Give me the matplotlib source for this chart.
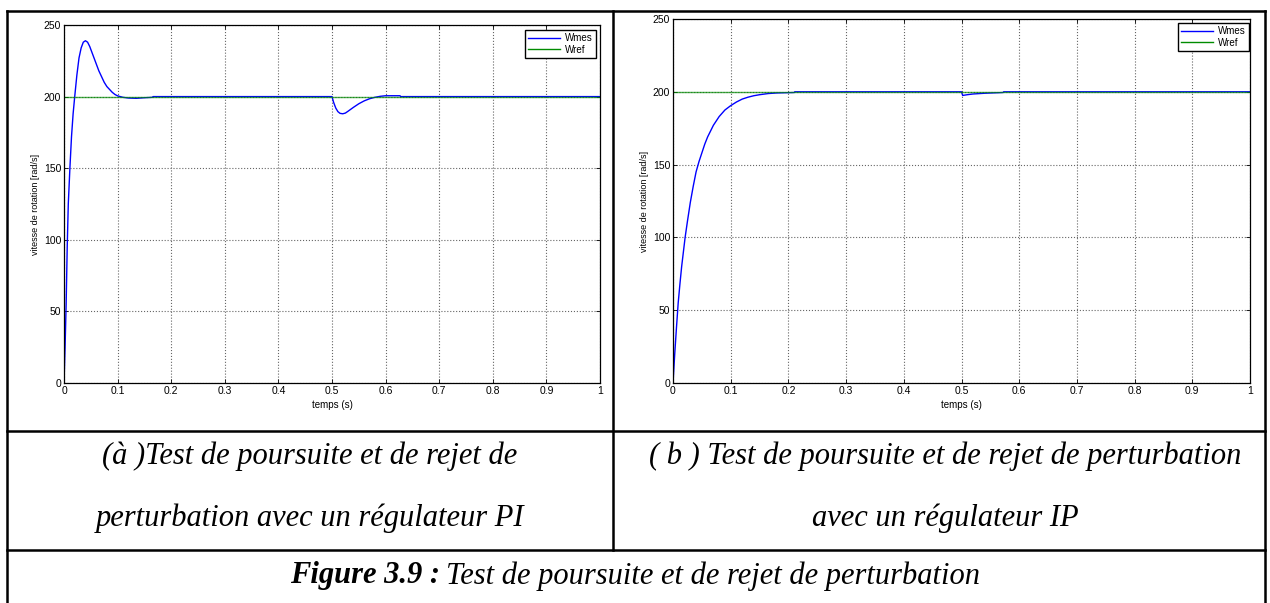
import numpy as np
import matplotlib.pyplot as plt
from matplotlib.lines import Line2D

# PI regulator: speed response (Wmes)
t_pi = [0, 0.002, 0.004, 0.006, 0.008, 0.011, 0.014, 0.017, 0.020, 0.024, 0.028,
        0.032, 0.036, 0.040, 0.044, 0.048, 0.052, 0.056, 0.060, 0.065, 0.070,
        0.075, 0.080, 0.085, 0.090, 0.095, 0.100, 0.110, 0.120, 0.135, 0.150,
        0.165, 0.166, 0.500, 0.503, 0.507, 0.511, 0.515, 0.520, 0.525, 0.530,
        0.540, 0.550, 0.560, 0.570, 0.580, 0.590, 0.600, 0.627, 0.628, 1.0]
w_pi = [0, 25, 55, 95, 125, 150, 172, 188, 200, 215, 227,
        234, 238, 239, 238, 235, 231, 227, 223, 218, 214,
        210, 207, 205, 203, 201.5, 200.5, 199.5, 199, 198.8, 199.2,
        199.5, 200, 200, 196, 192, 189.5, 188.3, 188, 188.5, 189.8,
        192.5, 195, 197, 198.5, 199.5, 200.2, 200.6, 200.6, 200, 200]

# IP regulator: speed response (Wmes)
t_ip = [0, 0.003, 0.006, 0.009, 0.012, 0.015, 0.018, 0.021, 0.025, 0.030, 0.035,
        0.040, 0.045, 0.050, 0.055, 0.060, 0.065, 0.070, 0.080, 0.090, 0.100,
        0.110, 0.120, 0.130, 0.140, 0.150, 0.165, 0.180, 0.210, 0.211, 0.500,
        0.502, 0.510, 0.520, 0.540, 0.572, 0.573, 1.0]
w_ip = [0, 20, 38, 55, 68, 80, 90, 100, 111, 124, 135,
        145, 152, 158, 164, 169, 173, 177, 183, 187.5, 190.5,
        193, 195, 196.3, 197.3, 198, 198.8, 199.2, 199.5, 200, 200,
        197.5, 198, 198.5, 199, 199.5, 200, 200]

# reference speed (Wref)
t_ref = [0, 1]
w_ref = [200, 200]

W, H = 1270, 603

def px_box(x0, y0, x1, y1):
    # pixel rectangle (top-left origin) -> figure fraction
    return [x0 / W, 1 - y1 / H, (x1 - x0) / W, (y1 - y0) / H]

def fx(x):
    return x / W

def fy(y):
    return 1 - y / H

fig = plt.figure(figsize=(12.7, 6.03), dpi=100)
fig.patch.set_facecolor('white')

sans = ['Liberation Sans', 'DejaVu Sans']
serif = ['Liberation Serif', 'DejaVu Serif']

panels = [
    (px_box(64, 25, 600, 383), t_pi, w_pi, (0.9925, 0.986)),
    (px_box(673, 19, 1250, 383), t_ip, w_ip, (0.998, 0.989)),
]

for box, tt, ww, leg_anchor in panels:
    ax = fig.add_axes(box)
    ax.plot(tt, ww, color='blue', lw=1.0, label='Wmes')
    ax.plot(t_ref, w_ref, color=(0, 0.55, 0), lw=1.0, alpha=0.7, label='Wref')
    ax.set_xlim(0, 1)
    ax.set_ylim(0, 250)
    ax.set_xticks(np.arange(0, 1.01, 0.1))
    ax.set_xticklabels(['0', '0.1', '0.2', '0.3', '0.4', '0.5', '0.6', '0.7', '0.8', '0.9', '1'])
    ax.set_yticks([0, 50, 100, 150, 200, 250])
    ax.grid(True, color='0.4', ls=':', lw=0.8)
    ax.tick_params(direction='in', length=3, width=0.6, top=True, right=True,
                   labelsize=7.5, pad=2)
    for lab in ax.get_xticklabels() + ax.get_yticklabels():
        lab.set_family(sans)
    for sp in ax.spines.values():
        sp.set_linewidth(0.9)
    ax.set_xlabel('temps (s)', fontsize=7, family=sans, labelpad=3)
    ax.set_ylabel('vitesse de rotation [rad/s]', fontsize=6.5, family=sans, labelpad=3)
    leg = ax.legend(loc='upper right', bbox_to_anchor=leg_anchor, borderaxespad=0,
                    fancybox=False, framealpha=1, edgecolor='black',
                    prop={'family': sans, 'size': 7}, handlelength=3.3,
                    borderpad=0.3, labelspacing=0.2, handletextpad=0.5)
    leg.get_frame().set_linewidth(1.0)
    for h in leg.get_lines():
        h.set_alpha(1)

# table lines
def hline(y, x0, x1, lw=1.8):
    fig.add_artist(Line2D([fx(x0), fx(x1)], [fy(y), fy(y)], color='black', lw=lw))

def vline(x, y0, y1, lw=1.8):
    fig.add_artist(Line2D([fx(x), fx(x)], [fy(y0), fy(y1)], color='black', lw=lw))

hline(11, 7, 1265)
hline(431, 7, 1265)
hline(550, 7, 1265)
vline(7, 11, 603)
vline(1265, 11, 603)
vline(613, 11, 550)

fs = 22
cap = dict(family=serif, style='italic', fontsize=fs, ha='center', va='center')
fig.text(fx(310), fy(456), '(à )Test de poursuite et de rejet de', **cap)
fig.text(fx(310), fy(518), 'perturbation avec un régulateur PI', **cap)
fig.text(fx(945), fy(456), '( b ) Test de poursuite et de rejet de perturbation', **cap)
fig.text(fx(945), fy(518), 'avec un régulateur IP', **cap)

t1 = fig.text(fx(290), fy(576), 'Figure 3.9 :', family=serif, style='italic',
              weight='bold', fontsize=fs, ha='left', va='center')
r = fig.canvas.get_renderer()
bb = t1.get_window_extent(renderer=r)
fig.text(bb.x1 / W + fx(6), fy(576), 'Test de poursuite et de rejet de perturbation',
         family=serif, style='italic', fontsize=fs, ha='left', va='center')

fig.savefig('out.png', dpi=100)
